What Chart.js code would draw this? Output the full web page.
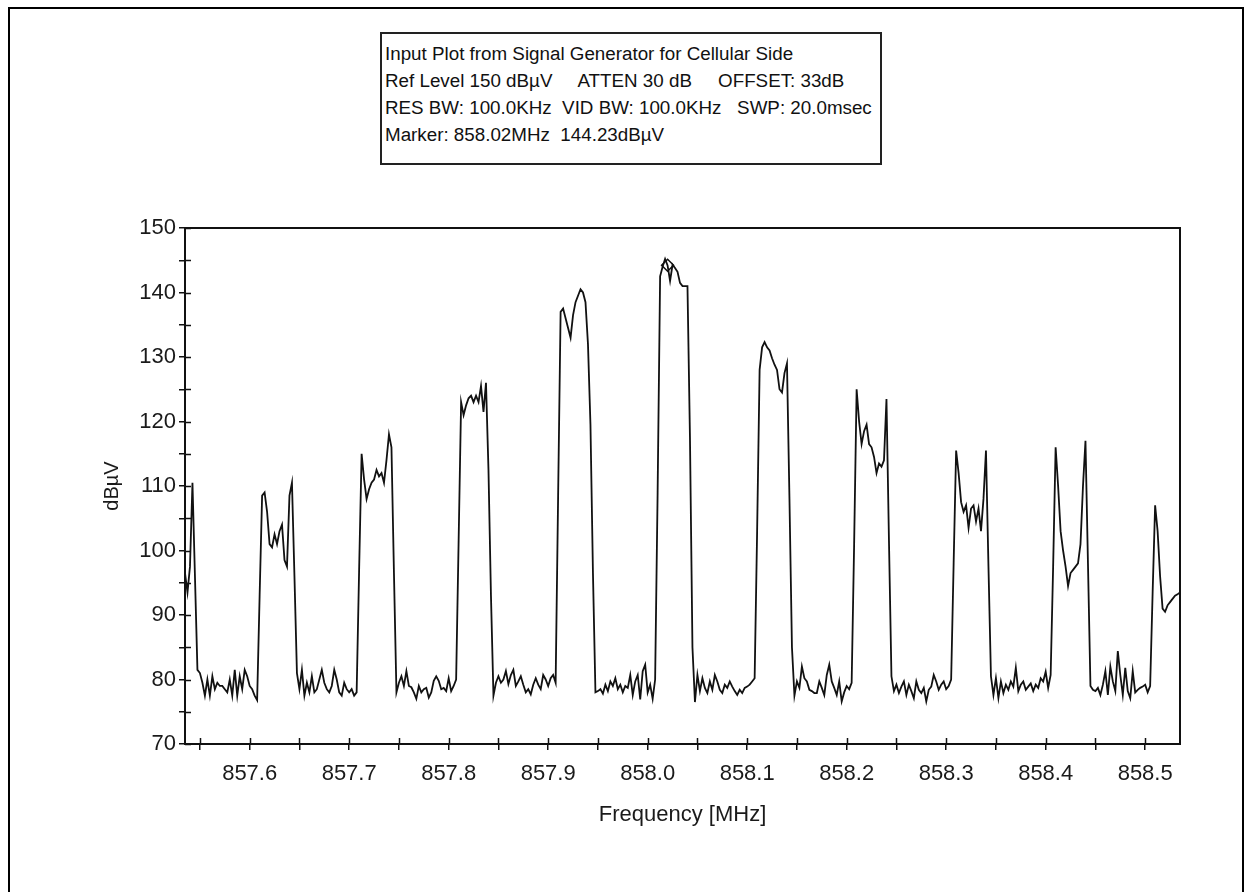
<!DOCTYPE html>
<html>
<head>
<meta charset="utf-8">
<script src="https://cdn.jsdelivr.net/npm/chart.js@4.4.1/dist/chart.umd.min.js"></script>
<style>
html,body{margin:0;padding:0;background:#fff;}
body{width:1250px;height:892px;position:relative;overflow:hidden;font-family:"Liberation Sans",Arial,sans-serif;}
#frame{position:absolute;left:8px;top:7px;width:1236px;height:900px;border:2px solid #000;box-sizing:border-box;}
#wrap{position:absolute;left:0;top:0;width:1250px;height:892px;}
#hdr{position:absolute;left:380px;top:32px;width:502px;height:133px;box-sizing:border-box;border:2px solid #222;padding:6px 0 0 3px;font-size:18.8px;line-height:27px;white-space:pre;color:#111;background:#fff;}
</style>
</head>
<body>
<div id="frame"></div>
<div id="wrap"><canvas id="c" width="1250" height="892"></canvas></div>
<div id="hdr"></div>
<script>
// ---- header text ----
const headerLines = [
  "Input Plot from Signal Generator for Cellular Side",
  "Ref Level 150 dB\u00B5V     ATTEN 30 dB     OFFSET: 33dB",
  "RES BW: 100.0KHz  VID BW: 100.0KHz   SWP: 20.0msec",
  "Marker: 858.02MHz  144.23dB\u00B5V"
];

// ---- sweep definition (401 trace points) ----
const startFreq = 857.535;   // MHz
const stepFreq = 0.0025;     // MHz per trace point

// ---- trace levels (dBµV) ----
const levels = [
  96.5, 93.5, 97.5, 110.5, 96, 81.5,
  81, 79.5, 77.5, 80, 77.5, 80.5, 78.5, 79.5, 79, 79, 78.5, 78, 80, 77.5, 81.5, 77.5, 80.5, 78.5, 81.5, 80.5, 79, 78.5, 77.5, 76.8,
  93, 108.5, 109, 106, 101, 100.5, 102.5, 101, 103, 104, 98.5, 97.5, 108.5, 110.5, 96, 81,
  78.5, 81.5, 77.5, 79.5, 78, 80.5, 78, 78.5, 80, 81.5, 79.5, 78.5, 78, 79, 81.5, 80, 78, 77.5, 79.5, 78.5, 78, 78.5, 77.5, 78,
  97, 115, 111, 108, 109.5, 110.5, 111, 112.5, 111.5, 112, 110.5, 114, 118, 116, 96.5, 78,
  79.5, 80.5, 79, 81.3, 79, 78.8, 78, 77, 79, 78, 78.5, 78.7, 77.2, 78, 79.8, 80.5, 79.8, 78.5, 78.7, 78.2, 80.2, 78.2, 79, 80,
  101.5, 123, 121, 122.5, 123.6, 124, 123, 124, 123, 125.5, 121.5, 126, 112.5, 93, 77.5,
  79.5, 80.5, 79.5, 80, 81.3, 79.3, 80.7, 81.5, 79, 79.7, 80.5, 79.2, 78, 78.5, 77.7, 79.2, 80.2, 79.2, 78.5, 80.7, 80, 79, 80.2, 80.7, 79.5,
  108.5, 137, 137.5, 136, 134.5, 133, 136.5, 138.5, 139.5, 140.5, 140, 138.5, 132, 119.5, 96.5, 78,
  78.2, 78.5, 77.8, 79.2, 78.2, 79.7, 79, 80.2, 78.5, 79.2, 78, 79, 78.7, 80.7, 77.6, 79.7, 80.7, 76.9, 81.3, 82.3, 78, 79.2, 77, 80,
  109, 142.5, 144, 145.2, 144.2, 141.8, 144.3, 143.8, 143.2, 141.5, 141, 141, 141, 117.5, 85, 76.5,
  80.7, 78.2, 80.2, 78.7, 77.9, 79.7, 78.4, 80.7, 79.7, 78.4, 77.9, 79.2, 78.7, 79.7, 78.9, 78.2, 77.6, 78.4, 77.9, 78.7, 78.9, 79.2, 79.7, 80.2,
  103, 128, 131.5, 132.3, 131.5, 131, 129.8, 128.8, 128, 125, 124.5, 127.5, 129, 108, 85, 77.5,
  79.7, 78.7, 82, 80.2, 79.7, 78.4, 78.2, 77.9, 77.9, 79.7, 78.7, 77.6, 80.7, 82.3, 79.7, 78.7, 77.6, 79.7, 76.6, 78, 79, 78.5, 79.5,
  101, 125, 120, 116.5, 118.5, 119.5, 116.5, 116, 114.5, 112, 113.5, 113, 114, 123.5, 101.5, 80.5,
  78.2, 79.2, 77.9, 78.9, 79.7, 77.6, 79.2, 78.2, 77.1, 79.7, 78.4, 77.9, 78.7, 76.6, 78.4, 78.9, 80.7, 79.7, 78.4, 79.2, 79.7, 78.5, 79, 80,
  98, 115.5, 112, 107.5, 106, 107, 103.5, 106.5, 107, 104.5, 106.5, 103, 108, 115.5, 97.5, 80.5,
  77.6, 80.2, 77.1, 79.7, 77.9, 79.2, 78.4, 79.7, 78.9, 81.8, 78.2, 79.2, 79.7, 78.4, 78.9, 79.4, 78.2, 79.2, 78.7, 80.2, 79.7, 81.2, 78.7, 80.7,
  97.5, 116, 110, 103, 100, 97.5, 94.5, 96.5, 97, 97.5, 98, 101, 110, 117, 98, 79,
  78.4, 78.2, 78.7, 77.6, 79.2, 81.3, 77.6, 82, 79.7, 78.2, 84.4, 80.7, 77.6, 81.8, 78.2, 77.1, 81.3, 78, 78.4, 78.7, 78.9, 79.2, 78, 79,
  93.5, 107, 103, 96, 91, 90.5, 91.5, 92, 92.5, 93, 93.2, 93.5
];

// ---- marker ----
const markerFreq = 858.02;
const markerLevel = 144.23;

// ---- axes ----
const xMin = 857.535, xMax = 858.535;
const yMin = 70, yMax = 150;
const xTickValues = [857.55, 857.6, 857.65, 857.7, 857.75, 857.8, 857.85, 857.9, 857.95, 858.0,
  858.05, 858.1, 858.15, 858.2, 858.25, 858.3, 858.35, 858.4, 858.45, 858.5];
const yTickValues = [70, 75, 80, 85, 90, 95, 100, 105, 110, 115, 120, 125, 130, 135, 140, 145, 150];
const xTitle = "Frequency [MHz]";
const yTitle = "dB\u00B5V";

document.getElementById('hdr').textContent = headerLines.join('\n');

const tracePoints = levels.map((v, i) => ({ x: +(startFreq + i * stepFreq).toFixed(4), y: v }));

const frameAndTicks = {
  id: 'frameAndTicks',
  afterDatasetsDraw(chart) {
    const { ctx, chartArea: a, scales: { x, y } } = chart;
    ctx.save();
    ctx.strokeStyle = '#111';
    ctx.lineWidth = 1.5;
    ctx.beginPath();
    x.ticks.forEach(t => {
      const px = Math.round(x.getPixelForValue(t.value)) + 0.5;
      ctx.moveTo(px, a.bottom); ctx.lineTo(px, a.bottom - 6);
    });
    y.ticks.forEach(t => {
      const py = Math.round(y.getPixelForValue(t.value)) + 0.5;
      ctx.moveTo(a.left, py); ctx.lineTo(a.left + 6, py);
    });
    ctx.stroke();
    ctx.lineWidth = 2;
    ctx.strokeRect(a.left, a.top, a.right - a.left, a.bottom - a.top);
    ctx.restore();
  }
};

Chart.defaults.font.family = '"Liberation Sans", Arial, sans-serif';
Chart.defaults.color = '#1a1a1a';

new Chart(document.getElementById('c'), {
  type: 'line',
  data: {
    datasets: [
      {
        data: tracePoints,
        borderColor: '#111',
        borderWidth: 1.8,
        pointRadius: 0,
        tension: 0,
        fill: false
      },
      {
        data: [{ x: markerFreq, y: markerLevel }],
        showLine: false,
        pointStyle: 'rectRot',
        pointRadius: 6,
        borderColor: '#111',
        borderWidth: 1.5,
        backgroundColor: 'rgba(0,0,0,0)'
      }
    ]
  },
  options: {
    responsive: false,
    animation: false,
    devicePixelRatio: 1,
    layout: { padding: { left: 0, top: 228, right: 70, bottom: 0 } },
    plugins: { legend: { display: false }, tooltip: { enabled: false } },
    scales: {
      x: {
        type: 'linear',
        min: xMin, max: xMax,
        afterBuildTicks: s => { s.ticks = xTickValues.map(v => ({ value: v })); },
        afterFit: s => { s.height = 148; },
        grid: { display: true, drawOnChartArea: false, drawTicks: true, tickLength: 6, color: '#111', lineWidth: 1.5 },
        border: { display: true, color: '#111', width: 2 },
        ticks: {
          autoSkip: false, maxRotation: 0, minRotation: 0, padding: 11,
          font: { size: 22 }, color: '#1a1a1a',
          callback: v => (Math.round(v * 100) % 10 === 0 ? v.toFixed(1) : '')
        },
        title: { display: true, text: xTitle, font: { size: 22 }, color: '#1a1a1a', padding: { top: 0, bottom: 64 } }
      },
      y: {
        min: yMin, max: yMax,
        afterBuildTicks: s => { s.ticks = yTickValues.map(v => ({ value: v })); },
        afterFit: s => { s.width = 185; },
        grid: { display: true, drawOnChartArea: false, drawTicks: true, tickLength: 6, color: '#111', lineWidth: 1.5 },
        border: { display: true, color: '#111', width: 2 },
        ticks: {
          autoSkip: false, padding: 3,
          font: { size: 22 }, color: '#1a1a1a',
          callback: v => (v % 10 === 0 ? String(v) : '')
        },
        title: { display: true, text: yTitle, font: { size: 20 }, color: '#1a1a1a', padding: { top: 100, bottom: 0 } }
      }
    }
  },
  plugins: [frameAndTicks]
});
</script>
</body>
</html>
